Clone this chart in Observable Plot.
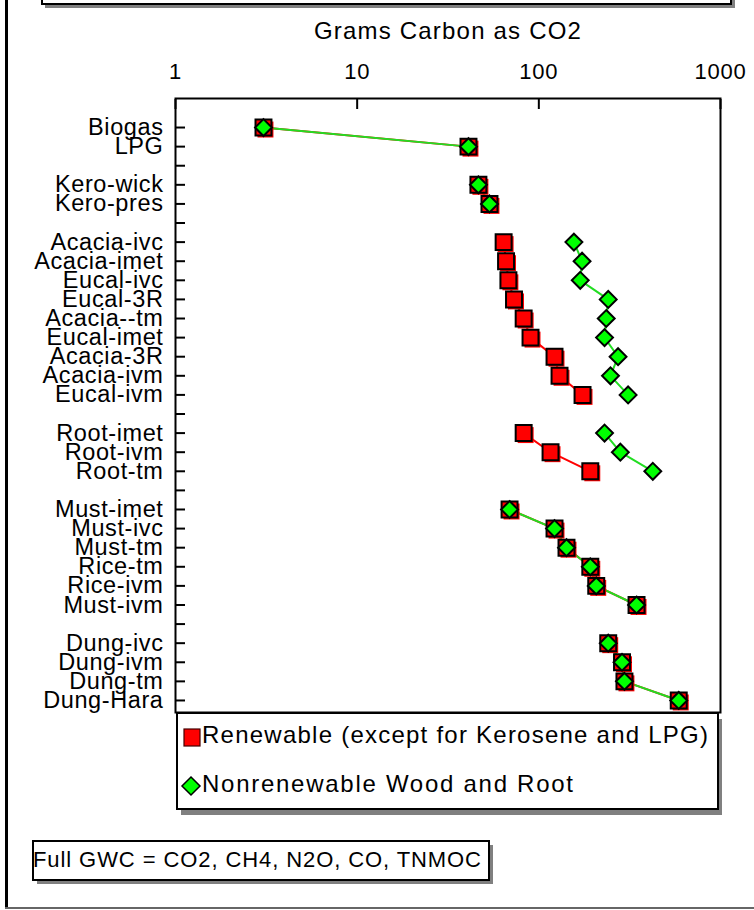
<!DOCTYPE html>
<html><head><meta charset="utf-8">
<script src="https://cdn.jsdelivr.net/npm/d3@7"></script>
<script src="https://cdn.jsdelivr.net/npm/@observablehq/plot@0.6"></script>
<style>
html,body{margin:0;padding:0;background:#fff;}
#wrap{position:relative;width:754px;height:910px;overflow:hidden;font-family:"Liberation Sans",Arial,sans-serif;}
#chart{position:absolute;left:0;top:0;}
#chart g[aria-label="y-axis tick label"] text{letter-spacing:0.6px;}
#chart g[aria-label="x-axis tick label"] text{letter-spacing:0.8px;}
#chart g[aria-label="text"] text{letter-spacing:1.2px;}
#overlay{position:absolute;left:0;top:0;}
</style></head>
<body><div id="wrap"><div id="chart"></div><svg id="overlay" width="754" height="910"></svg></div>
<script>
// ---- data ----
const xTitle = "Grams Carbon as CO2";
const xTicks = [1, 10, 100, 1000];
const xTickLabels = ["1", "10", "100", "1000"];
const categories = [
  "Biogas", "LPG", "",
  "Kero-wick", "Kero-pres", "",
  "Acacia-ivc", "Acacia-imet", "Eucal-ivc", "Eucal-3R", "Acacia--tm", "Eucal-imet", "Acacia-3R", "Acacia-ivm", "Eucal-ivm", "",
  "Root-imet", "Root-ivm", "Root-tm", "",
  "Must-imet", "Must-ivc", "Must-tm", "Rice-tm", "Rice-ivm", "Must-ivm", "",
  "Dung-ivc", "Dung-ivm", "Dung-tm", "Dung-Hara"
];
const renewable = [
  3.05, 41, null,
  46.5, 53.5, null,
  64, 66, 68, 73, 82.5, 90, 122, 130, 174, null,
  82.5, 116, 192, null,
  69, 122, 142, 192, 207, 345, null,
  241, 287, 296, 589
];
const nonrenewable = [
  3.05, 41, null,
  46.5, 53.5, null,
  156, 173, 169, 241, 235, 230, 273, 248, 310, null,
  230, 281, 424, null,
  69, 122, 142, 192, 207, 345, null,
  241, 287, 296, 589
];
const seriesNames = ["Renewable (except for Kerosene and LPG)", "Nonrenewable Wood and Root"];
const note = "Full GWC = CO2, CH4, N2O, CO, TNMOC";

const RED = "#ff0000", GREEN = "#00ff00", GREEN_LINE = "#22dd22";
const data = categories.map((c, i) => ({i, c, r: renewable[i], n: nonrenewable[i]}));

const chart = Plot.plot({
  width: 754, height: 910,
  marginTop: 98, marginLeft: 175, marginRight: 34, marginBottom: 198,
  x: {type: "log", domain: [1, 1000], label: null},
  y: {domain: [30.63, -1.52], label: null},
  style: {fontFamily: "'Liberation Sans', Arial, sans-serif", color: "black", background: "transparent"},
  marks: [
    Plot.frame({stroke: "black", strokeWidth: 2}),
    Plot.axisX(xTicks, {anchor: "top", tickSize: -10, tickPadding: 30, strokeWidth: 2,
      tickFormat: d => xTickLabels[xTicks.indexOf(d)], label: null, fontSize: 22}),
    Plot.text([xTitle], {frameAnchor: "top", dy: -77, lineAnchor: "top", fontSize: 24, text: d => d}),
    Plot.axisY(d3.range(categories.length), {anchor: "left", tickSize: -10, tickPadding: 22, strokeWidth: 2,
      tickFormat: i => categories[i], label: null, fontSize: 23.5}),
    Plot.line(data, {x: "r", y: "i", stroke: RED, strokeWidth: 2}),
    Plot.line(data, {x: "n", y: "i", stroke: GREEN_LINE, strokeWidth: 2}),
    Plot.dot(data, {x: "r", y: "i", symbol: "square", r: 9, fill: RED, dx: 2, dy: 2}),
    Plot.dot(data, {x: "r", y: "i", symbol: "square", r: 9, fill: RED, stroke: "black", strokeWidth: 2}),
    Plot.dot(data, {x: "n", y: "i", symbol: "diamond2", r: 7.6, fill: GREEN, stroke: "black", strokeWidth: 2})
  ]
});
document.getElementById("chart").append(chart);

// ---- decorations: frame, legend and note boxes ----
const ov = d3.select("#overlay");
// outer frame
ov.append("rect").attr("x", 5).attr("y", 0).attr("width", 3).attr("height", 909).attr("fill", "black");
ov.append("rect").attr("x", 5).attr("y", 907).attr("width", 749).attr("height", 2).attr("fill", "#666");
// top banner box (cut off)
ov.append("rect").attr("x", 45).attr("y", -10).attr("width", 690).attr("height", 18).attr("fill", "#808080");
ov.append("rect").attr("x", 42).attr("y", -12).attr("width", 689).attr("height", 16).attr("fill", "white").attr("stroke", "black").attr("stroke-width", 2);

function box(x, y, w, h, sx, sy) {
  ov.append("rect").attr("x", x + sx).attr("y", y + sy).attr("width", w).attr("height", h).attr("fill", "#808080");
  ov.append("rect").attr("x", x).attr("y", y).attr("width", w).attr("height", h).attr("fill", "white").attr("stroke", "black").attr("stroke-width", 2);
}
// legend
box(177, 713, 541, 96, 4, 6);
ov.append("rect").attr("x", 184).attr("y", 729).attr("width", 16).attr("height", 17).attr("fill", RED).attr("stroke", "#400").attr("stroke-width", 1.2);
ov.append("path").attr("d", "M191,777 L200,786 L191,795 L182,786 Z").attr("fill", GREEN).attr("stroke", "black").attr("stroke-width", 1.5);
ov.append("text").attr("x", 202).attr("y", 743).attr("font-size", 24).attr("textLength", 506).attr("lengthAdjust", "spacing").text(seriesNames[0]);
ov.append("text").attr("x", 202).attr("y", 792).attr("font-size", 24).attr("textLength", 371).attr("lengthAdjust", "spacing").text(seriesNames[1]);
// note
box(33, 841, 456, 39, 4, 4);
ov.append("text").attr("x", 33).attr("y", 867).attr("font-size", 22).attr("textLength", 448).attr("lengthAdjust", "spacing").text(note);
ov.selectAll("text").attr("font-family", "'Liberation Sans', Arial, sans-serif").attr("fill", "black");
</script>
</body></html>
